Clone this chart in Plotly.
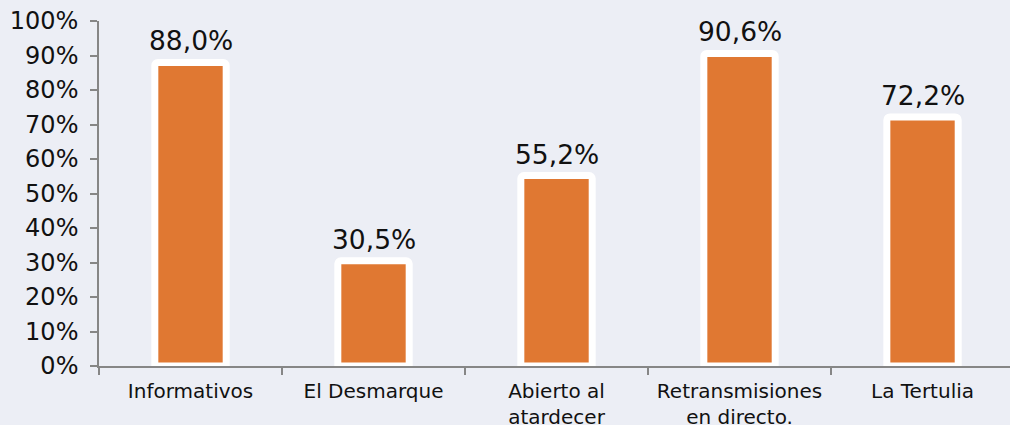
import plotly.graph_objects as go

categories = ["Informativos", "El Desmarque", "Abierto al<br>atardecer", "Retransmisiones<br>en directo.", "La Tertulia"]
values = [0.880, 0.305, 0.552, 0.906, 0.722]
y_ticks = [0, 0.1, 0.2, 0.3, 0.4, 0.5, 0.6, 0.7, 0.8, 0.9, 1.0]
value_labels = [f"{v * 100:.1f}%".replace(".", ",") for v in values]

BG = "#eceef5"
ORANGE = "#e07832"
FONT = "DejaVu Sans, Verdana, sans-serif"

fig = go.Figure(go.Bar(
    x=categories,
    y=values,
    width=0.39,
    marker=dict(color=ORANGE, line=dict(color="white", width=7), cornerradius=3),
    hoverinfo="skip",
))

for c, v, t in zip(categories, values, value_labels):
    fig.add_annotation(
        x=c, y=v, text=t, showarrow=False, yanchor="bottom", yshift=4,
        font=dict(size=26.5, color="#111111", family=FONT),
    )

fig.update_layout(
    width=1010, height=425,
    margin=dict(l=99, r=0, t=21, b=59, autoexpand=False),
    paper_bgcolor=BG, plot_bgcolor=BG,
    separators=",.",
    font=dict(family=FONT, color="#111111"),
    showlegend=False,
)
fig.update_xaxes(
    range=[-0.5, 4.478], automargin=False,
    showline=True, linecolor="#868686", linewidth=1.5,
    ticks="outside", tickson="boundaries", ticklen=7, tickcolor="#868686", tickwidth=1.5,
    tickfont=dict(size=20, family=FONT, color="#111111"),
    ticklabelstandoff=6,
    showgrid=False, zeroline=False,
)
fig.update_yaxes(
    range=[0, 1], tickvals=y_ticks, tickformat=".0%", automargin=False,
    showline=True, linecolor="#868686", linewidth=1.5,
    ticks="outside", ticklen=7, tickcolor="#868686", tickwidth=1.5,
    tickfont=dict(size=24, family=FONT, color="#111111"),
    ticklabelstandoff=7,
    showgrid=False, zeroline=False,
)

fig.write_html(
    "out.html",
    config={"displayModeBar": False},
    post_script="document.body.style.margin='0';document.body.style.background='#eceef5';",
)
